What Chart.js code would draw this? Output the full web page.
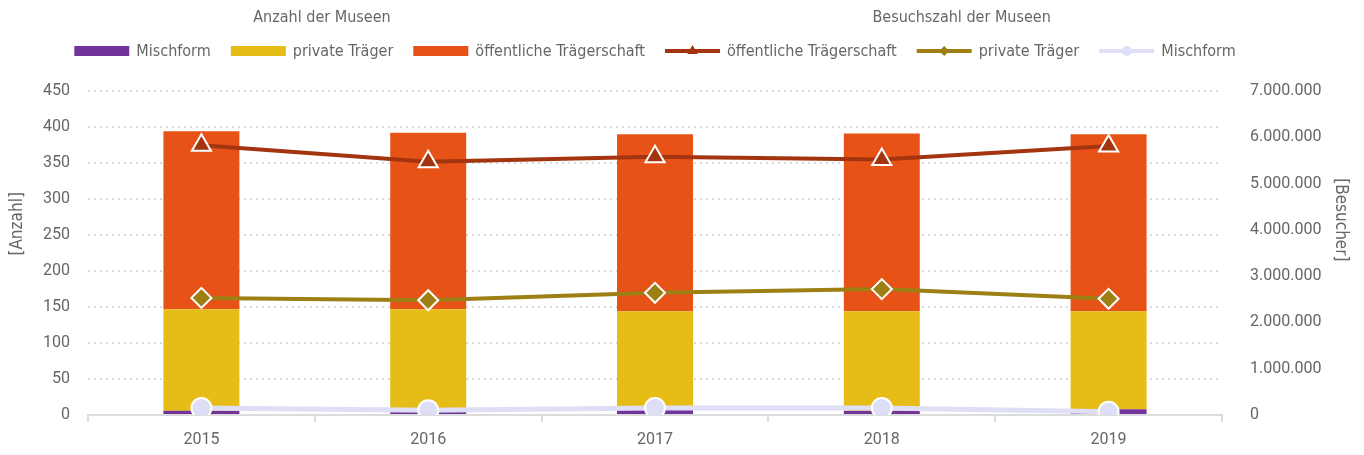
<!DOCTYPE html>
<html lang="de">
<head>
<meta charset="utf-8">
<title>Museen nach Trägerschaft</title>
<script src="https://cdn.jsdelivr.net/npm/chart.js@4/dist/chart.umd.min.js"></script>
<style>
  html, body { margin: 0; padding: 0; background: #fff; }
  #wrap { width: 1364px; height: 455px; }
</style>
</head>
<body>
<div id="wrap"><canvas id="museumChart" width="1364" height="455"></canvas></div>
<script>
// Jahre
const years = ['2015', '2016', '2017', '2018', '2019'];

// Anzahl der Museen (linke Achse, gestapelt)
const anzahlMischform = [6, 4, 7, 6, 8];
const anzahlPrivat = [141, 143, 137, 138, 136];
const anzahlOeffentlich = [247, 245, 246, 247, 246];

// Besuchszahl der Museen (rechte Achse)
const besucheOeffentlich = [5830000, 5470000, 5580000, 5520000, 5810000];
const besuchePrivat = [2530000, 2480000, 2640000, 2720000, 2510000];
const besucheMischform = [150000, 100000, 150000, 150000, 70000];

const groupTitles = ['Anzahl der Museen', 'Besuchszahl der Museen'];
const axisTitles = ['[Anzahl]', '[Besucher]'];

const textColor = '#666';
const narrowFont = '"Liberation Sans Narrow", "DejaVu Sans Condensed", sans-serif';

// Legende in zwei Gruppen mit Überschrift, Linien mit Marker; dazu die Achsentitel
const groupLegend = {
    id: 'groupLegend',
    afterDraw(chart) {
        const ctx = chart.ctx;
        const area = chart.chartArea;
        ctx.save();
        ctx.font = '16px ' + narrowFont;
        ctx.textBaseline = 'middle';
        const sym = 55, pad = 7, gap = 20;
        const items = chart.data.datasets.map(ds => ({
            ds: ds,
            w: sym + pad + ctx.measureText(ds.label).width
        }));
        const total = items.reduce((s, it) => s + it.w, 0) + gap * (items.length - 1);
        let x = (area.left + area.right) / 2 - total / 2;
        const y = 51;
        items.forEach(it => {
            const ds = it.ds;
            if (ds.type === 'line') {
                ctx.strokeStyle = ds.borderColor;
                ctx.lineWidth = 4;
                ctx.beginPath();
                ctx.moveTo(x, y);
                ctx.lineTo(x + sym, y);
                ctx.stroke();
                ctx.fillStyle = ds.borderColor;
                Chart.helpers.drawPoint(ctx, {
                    pointStyle: ds.pointStyle,
                    radius: ds.pointStyle === 'triangle' ? 6 : 5,
                    rotation: 0,
                    borderWidth: 0
                }, x + sym / 2, y);
            } else {
                ctx.fillStyle = ds.backgroundColor;
                ctx.fillRect(x, y - 5, sym, 10);
            }
            ctx.fillStyle = textColor;
            ctx.textAlign = 'left';
            ctx.fillText(ds.label, x + sym + pad, y + 1);
            x += it.w + gap;
        });

        // Gruppenüberschriften
        ctx.textAlign = 'center';
        ctx.fillText(groupTitles[0], chart.width * 0.236, 18);
        ctx.fillText(groupTitles[1], chart.width * 0.705, 18);

        // Achsentitel
        const midY = area.top + (area.bottom - area.top) * 0.41;
        ctx.font = '17px ' + narrowFont;
        ctx.save();
        ctx.translate(18, midY);
        ctx.rotate(-Math.PI / 2);
        ctx.fillText(axisTitles[0], 0, 0);
        ctx.restore();
        ctx.save();
        ctx.translate(chart.width - 24, midY - 4);
        ctx.rotate(Math.PI / 2);
        ctx.fillText(axisTitles[1], 0, 0);
        ctx.restore();
        ctx.restore();
    }
};

const ctx = document.getElementById('museumChart').getContext('2d');

new Chart(ctx, {
    data: {
        labels: years,
        datasets: [
            {
                type: 'bar', label: 'Mischform', data: anzahlMischform,
                backgroundColor: '#72339a', yAxisID: 'y', stack: 'anzahl', order: 2
            },
            {
                type: 'bar', label: 'private Träger', data: anzahlPrivat,
                backgroundColor: '#e6bc16', yAxisID: 'y', stack: 'anzahl', order: 2
            },
            {
                type: 'bar', label: 'öffentliche Trägerschaft', data: anzahlOeffentlich,
                backgroundColor: '#e75217', yAxisID: 'y', stack: 'anzahl', order: 2
            },
            {
                type: 'line', label: 'öffentliche Trägerschaft', data: besucheOeffentlich,
                borderColor: '#a2340f', backgroundColor: '#a2340f', borderWidth: 4,
                pointStyle: 'triangle', pointRadius: 11, pointBorderColor: '#fff',
                pointBorderWidth: 2, yAxisID: 'y1', order: 1, tension: 0
            },
            {
                type: 'line', label: 'private Träger', data: besuchePrivat,
                borderColor: '#9d7f13', backgroundColor: '#9d7f13', borderWidth: 4,
                pointStyle: 'rectRot', pointRadius: 10, pointBorderColor: '#fff',
                pointBorderWidth: 2, yAxisID: 'y1', order: 1, tension: 0
            },
            {
                type: 'line', label: 'Mischform', data: besucheMischform,
                borderColor: '#dedef7', backgroundColor: '#dedef7', borderWidth: 5,
                pointStyle: 'circle', pointRadius: 10, pointBorderColor: '#fff',
                pointBorderWidth: 2, yAxisID: 'y1', order: 0, tension: 0
            }
        ]
    },
    options: {
        responsive: false,
        animation: false,
        layout: { padding: { top: 91, left: 0, right: 0, bottom: 0 } },
        datasets: {
            bar: { barPercentage: 0.335, categoryPercentage: 1 }
        },
        plugins: {
            legend: { display: false },
            tooltip: { enabled: false }
        },
        scales: {
            x: {
                stacked: true,
                grid: {
                    display: true, drawOnChartArea: false, offset: true,
                    color: '#dcdcdc', tickLength: 7, lineWidth: 2
                },
                border: { display: true, color: '#dcdcdc', width: 2 },
                ticks: {
                    color: textColor, padding: 8,
                    font: { family: 'Roboto', size: 16 }
                },
                afterFit(scale) { scale.height = 40; }
            },
            y: {
                position: 'left',
                stacked: true,
                min: 0, max: 450,
                ticks: {
                    stepSize: 50, color: textColor, padding: 18,
                    font: { family: 'Roboto', size: 16 }
                },
                grid: {
                    drawTicks: false, color: '#dadada', lineWidth: 2
                },
                border: { display: false, dash: [2, 4] },
                afterFit(scale) { scale.width = 88; }
            },
            y1: {
                position: 'right',
                min: 0, max: 7000000,
                ticks: {
                    stepSize: 1000000, color: textColor, padding: 28,
                    font: { family: 'Roboto', size: 16 },
                    callback: v => v.toLocaleString('de-DE')
                },
                grid: { drawOnChartArea: false, drawTicks: false },
                border: { display: false },
                afterFit(scale) { scale.width = 142; }
            }
        }
    },
    plugins: [groupLegend]
});
</script>
</body>
</html>
